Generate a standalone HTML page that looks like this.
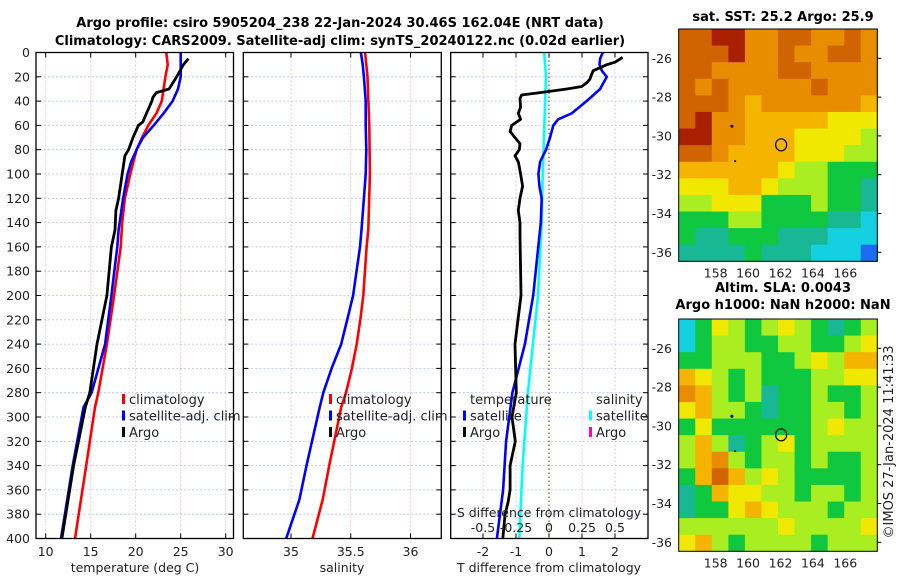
<!DOCTYPE html>
<html><head><meta charset="utf-8"><style>
html,body{margin:0;padding:0;background:#fff;}
svg{display:block;font-family:"DejaVu Sans","Liberation Sans",sans-serif;}
</style></head><body>
<svg id="fig" width="900" height="580" viewBox="0 0 900 580" xmlns="http://www.w3.org/2000/svg">
<text x="340" y="27" text-anchor="middle" font-size="13" font-weight="bold">Argo profile: csiro 5905204_238 22-Jan-2024 30.46S 162.04E (NRT data)</text>
<text x="340" y="45" text-anchor="middle" font-size="13" font-weight="bold">Climatology: CARS2009. Satellite-adj clim: synTS_20240122.nc (0.02d earlier)</text>
<g id="panels"></g>
<g id="maps"></g>
</svg>
<script>
// ---- Temperature panel data ----
const tClimDepth = [0,10,20,40,50,60,70,80,100,120,140,160,200,240,280,292,340,400];
const tClimVal   = [23.4,23.55,23.3,22.9,22.3,21.4,20.7,20.1,19.4,18.8,18.5,18.33,17.6,16.8,15.85,15.48,14.5,13.26];
const tSatDepth  = [0,20,30,40,50,60,70,80,90,100,120,146,160,200,240,280,292,340,400];
const tSatVal    = [25.0,25.0,24.7,24.1,23.1,22.0,20.8,20.1,19.5,19.1,18.6,18.1,17.96,17.3,16.6,15.1,14.2,13.0,11.7];
const tArgoDepth = [5,10,20,30,33,37,40,50,57,60,70,80,85,100,120,130,146,160,200,240,280,292,340,400];
const tArgoVal   = [25.85,25.3,24.55,23.7,22.3,21.9,21.8,21.2,20.8,20.3,19.7,19.2,18.8,18.5,18.1,17.8,17.7,17.3,16.8,15.7,14.9,14.4,13.1,11.8];
// ---- Salinity panel data ----
const sClimDepth = [0,10,20,60,100,146,160,200,220,240,260,280,292,340,368,400];
const sClimVal   = [35.62,35.63,35.64,35.655,35.66,35.647,35.633,35.605,35.58,35.55,35.51,35.46,35.42,35.32,35.265,35.18];
const sSatDepth  = [0,10,20,40,60,80,100,120,146,160,200,220,240,260,280,292,340,368,400];
const sSatVal    = [35.585,35.6,35.61,35.625,35.625,35.63,35.625,35.61,35.59,35.577,35.52,35.47,35.42,35.34,35.27,35.24,35.13,35.07,34.96];
// ---- Difference panel data ----
const dSDepth = [0,20,100,140,200,280,340,400];
const dSVal   = [-0.036,-0.023,-0.048,-0.055,-0.083,-0.16,-0.2,-0.225];
const dTSatDepth = [0,5,10,15,20,30,40,50,55,60,70,80,90,100,110,120,140,200,240,280,320,360,400];
const dTSatVal   = [1.63,1.55,1.53,1.6,1.75,1.55,1.14,0.69,0.28,0.13,0.03,-0.09,-0.27,-0.32,-0.29,-0.22,-0.25,-0.48,-0.73,-1.11,-1.3,-1.39,-1.58];
const dTArgoDepth = [4,8,10,15,18,22,25,28,30,33,35,38,45,50,55,60,65,70,75,80,85,90,100,110,120,130,140,150,200,240,280,300,320,340,360,370,380,400];
const dTArgoVal   = [2.23,2.0,1.75,1.34,1.29,1.24,1.14,0.99,0.54,-0.27,-0.83,-0.88,-0.86,-0.93,-0.86,-1.13,-1.18,-1.03,-0.88,-0.9,-1.03,-0.93,-0.86,-0.8,-0.88,-0.93,-0.88,-0.88,-0.85,-1.03,-0.99,-1.12,-1.02,-1.18,-1.18,-1.24,-1.33,-1.4];
// ---- ticks ----
const depthTicks = [0,20,40,60,80,100,120,140,160,180,200,220,240,260,280,300,320,340,360,380,400];
const tTicks = [10,15,20,25,30];
const sTicks = [35,35.5,36];
const sTickLabels = ['35','35.5','36'];
const dTTicks = [-2,-1,0,1,2];
const dSTicks = [-0.5,-0.25,0,0.25,0.5];
const dSTickLabels = ['-0.5','-0.25','0','0.25','0.5'];
// ---- maps (value classes 0..9) ----
const sstGrid = [
[8,8,9,9,7,7,8,8,7,7,8,7],
[8,8,8,9,7,7,8,7,7,8,8,7],
[8,8,7,7,7,7,8,8,7,7,7,7],
[8,7,8,7,7,7,7,7,8,7,7,7],
[8,8,8,7,6,7,7,7,7,7,7,6],
[8,9,7,7,6,6,6,6,6,5,5,5],
[9,9,7,7,6,6,6,5,5,5,5,4],
[8,8,7,6,6,6,6,5,5,5,4,4],
[6,6,6,6,6,6,5,4,4,3,3,3],
[5,5,5,6,6,5,4,4,4,3,3,2],
[4,4,5,5,5,3,3,3,4,3,3,2],
[3,3,3,4,4,3,3,3,3,2,2,1],
[3,2,2,3,3,3,2,2,2,1,1,1],
[2,2,2,2,3,2,2,2,1,1,1,0]];
const slaGrid = [
[1,3,5,4,3,4,5,4,3,2,3,4],
[1,3,4,4,3,3,4,4,3,3,4,5],
[3,3,4,4,4,3,3,4,5,4,6,6],
[6,5,4,3,4,3,3,3,4,4,5,5],
[7,6,4,3,4,2,3,3,4,3,3,4],
[5,6,4,4,3,2,3,3,4,4,3,4],
[3,5,3,3,3,3,3,3,4,5,4,4],
[4,6,4,2,3,4,5,3,4,4,4,4],
[4,6,7,4,3,4,4,3,4,3,3,4],
[3,6,8,6,4,5,4,3,3,3,3,4],
[2,3,6,5,5,4,4,3,4,4,3,4],
[2,3,3,5,6,5,4,4,4,3,4,4],
[4,4,4,4,4,4,5,4,4,4,4,5],
[5,6,4,3,4,4,4,4,3,4,4,4]];
const latTicks = [-26,-28,-30,-32,-34,-36];
const lonTicks = [158,160,162,164,166];
const profileLon = [162.04];
const profileLat = [-30.46];

const NS='http://www.w3.org/2000/svg';
function mk(tag, attrs, parent){const e=document.createElementNS(NS,tag);for(const k in attrs)e.setAttribute(k,attrs[k]);parent.appendChild(e);return e;}
const P=document.getElementById('panels');
const top0=52.5, bot=538.5;
const yD = d => top0 + d*(bot-top0)/400;
const xT = v => 45.7 + (v-10)*9;
const xS = v => 291 + (v-35)*119.5;
const xDT = v => 549 + v*33;
const xDS = v => 549 + v*132;
const frames = [[36,233.5],[243.3,441.3],[450.7,648]];

function gridAndFrame(i, xs, fn){
  const [l,r]=frames[i];
  depthTicks.forEach(d=>{ if(d>0&&d<400){const g=mk('line',{x1:l,x2:r,y1:yD(d),y2:yD(d),stroke:'#b8c0e8','stroke-width':0.8,'stroke-dasharray':'2,2'},P);
    
    }
    [[l,l+5],[r-5,r]].forEach(([a,b])=>{const t=mk('line',{x1:a,x2:b,y1:yD(d),y2:yD(d),stroke:'#000','stroke-width':1},P);
    
    });
  });
  xs.forEach(v=>{const x=fn(v); if(x>l+1&&x<r-1){const g=mk('line',{x1:x,x2:x,y1:top0,y2:bot,stroke:'#e0c0c0','stroke-width':0.8,'stroke-dasharray':'2,2'},P);
    
    }
    [[bot-5,bot],[top0,top0+5]].forEach(([a,b])=>{const t=mk('line',{x1:x,x2:x,y1:a,y2:b,stroke:'#000','stroke-width':1},P);
    
    });
  });
}
function frame(i){const [l,r]=frames[i];const f=mk('rect',{x:l,y:top0,width:r-l,height:bot-top0,fill:'none',stroke:'#000','stroke-width':1.3},P);
  
  }
function line(depths, vals, fx, color, w, name){
  const d=depths.map((dd,i)=>(i?'L':'M')+fx(vals[i]).toFixed(1)+','+yD(dd).toFixed(1)).join('');
  const p=mk('path',{d:d,fill:'none',stroke:color,'stroke-width':w,'stroke-linejoin':'round'},P);
  
  
}
function txt(x,y,s,opts,name,parent){const t=mk('text',Object.assign({x:x,y:y,'font-size':12.5,fill:'#222'},opts||{}),parent||P);t.textContent=s;
  
  return t;}

gridAndFrame(0,tTicks,xT);
gridAndFrame(1,sTicks,xS);
gridAndFrame(2,dTTicks,xDT);
const z=mk('line',{x1:xDT(0),x2:xDT(0),y1:top0,y2:bot,stroke:'#666633','stroke-width':1.2,'stroke-dasharray':'1.5,2.5'},P);



depthTicks.forEach(d=>txt(30,yD(d)+4.5,String(d),{'text-anchor':'end'},'y-tick-label'));
tTicks.forEach(v=>txt(xT(v),556,String(v),{'text-anchor':'middle'},'x-tick-label'));
sTicks.forEach((v,i)=>txt(xS(v),556,sTickLabels[i],{'text-anchor':'middle'},'x-tick-label'));
dTTicks.forEach(v=>txt(xDT(v),556,String(v),{'text-anchor':'middle'},'x-tick-label'));
txt(135,572,'temperature (deg C)',{'text-anchor':'middle'},'x-axis-title-temperature');
txt(342,572,'salinity',{'text-anchor':'middle'},'x-axis-title-salinity');
txt(549,572,'T difference from climatology',{'text-anchor':'middle'},'x-axis-title-tdiff');

line(tClimDepth,tClimVal,xT,'#ff0000',2.6,'temp-climatology-line');
line(tSatDepth,tSatVal,xT,'#0000ff',2.6,'temp-satellite-line');
line(tArgoDepth,tArgoVal,xT,'#000000',2.8,'temp-argo-line');
line(sClimDepth,sClimVal,xS,'#ff0000',2.6,'sal-climatology-line');
line(sSatDepth,sSatVal,xS,'#0000ff',2.6,'sal-satellite-line');
line(dSDepth,dSVal,xDS,'#00ffff',2.6,'sdiff-satellite-line');
line(dTSatDepth,dTSatVal,xDT,'#0000ff',2.6,'tdiff-satellite-line');
line(dTArgoDepth,dTArgoVal,xDT,'#000000',2.8,'tdiff-argo-line');

dSTicks.forEach((v,i)=>txt(xDS(v),532,dSTickLabels[i],{'text-anchor':'middle'},'s-tick-label'));
txt(549,517,'S difference from climatology',{'text-anchor':'middle'},'s-axis-title');

frame(0);frame(1);frame(2);

function legend(x, items, name){
  const g=mk('g',{},P);
  
  
  items.forEach((it,i)=>{const y=404+i*16.5;
    if(it[1]){const r=mk('rect',{x:x-7,y:y-10,width:3,height:10,fill:it[1]},g);
      
      }
    txt(x,y,it[0],{'font-size':13},'legend-entry',g);});
}
legend(129,[['climatology','#ff0000'],['satellite-adj. clim','#0000ff'],['Argo','#000']],'legend-temperature');
legend(336,[['climatology','#ff0000'],['satellite-adj. clim','#0000ff'],['Argo','#000']],'legend-salinity');
legend(470,[['temperature',null],['satellite','#0000ff'],['Argo','#000']],'legend-tdiff');
legend(596,[['salinity',null],['satellite','#00ffff'],['Argo','#ff00cc']],'legend-sdiff');

// ---- maps ----
const M=document.getElementById('maps');
const cmap=['#1c6bf0','#14d0e0','#18b894','#10c840','#a8ee20','#f0e800','#f5b400','#e88c00','#d06400','#a82000'];
const mapL=678.7, mapR=877.3, mapW=mapR-mapL;
const lonX = lon => 715.7 + (lon-158)*16.2;
function drawMap(grid, top, bottom, name, title1, title2){
  const g=mk('g',{},M);
  
  
  const rows=grid.length, cols=grid[0].length, cw=mapW/cols, ch=(bottom-top)/rows;
  grid.forEach((row,r)=>row.forEach((v,c)=>{const cell=mk('rect',{x:(mapL+c*cw).toFixed(2),y:(top+r*ch).toFixed(2),width:(cw+0.5).toFixed(2),height:(ch+0.5).toFixed(2),fill:cmap[v]},g);
    
    }));
  const latY = lat => top + 29.3 + (-26-lat)*19.4;
  const fr=mk('rect',{x:mapL,y:top,width:mapW,height:bottom-top,fill:'none',stroke:'#000','stroke-width':1},g);
  
  
  latTicks.forEach(lt=>{const y=latY(lt);txt(672,y+4.5,String(lt),{'text-anchor':'end'},'map-lat-label',g);
    const t=mk('line',{x1:mapR,x2:mapR+4,y1:y,y2:y,stroke:'#000'},g);
    
    });
  lonTicks.forEach(ln=>txt(lonX(ln),bottom+16,String(ln),{'text-anchor':'middle'},'map-lon-label',g));
  const c=mk('ellipse',{cx:lonX(profileLon[0]),cy:latY(profileLat[0]),rx:5.5,ry:6,fill:'none',stroke:'#000','stroke-width':1.2},g);
  
  
  const d1=mk('circle',{cx:lonX(159),cy:latY(-29.5),r:1.5,fill:'#000'},g);
  
  
  const d2=mk('circle',{cx:lonX(159.2),cy:latY(-31.3),r:1,fill:'#000'},g);
  
  
  if(title2){txt(783,top-27,title1,{'text-anchor':'middle','font-size':13,'font-weight':'bold',fill:'#000'},'map-title',g);
    txt(783,top-10,title2,{'text-anchor':'middle','font-size':13,'font-weight':'bold',fill:'#000'},'map-subtitle',g);}
  else txt(783,top-8,title1,{'text-anchor':'middle','font-size':13,'font-weight':'bold',fill:'#000'},'map-title',g);
}
drawMap(sstGrid,29,261.3,'sst-map','sat. SST: 25.2 Argo: 25.9');
drawMap(slaGrid,319,551.3,'sla-map','Altim. SLA: 0.0043','Argo h1000: NaN h2000: NaN');
txt(0,0,'©IMOS 27-Jan-2024 11:41:33',{'text-anchor':'middle','font-size':13,transform:'translate(893,442) rotate(-90)'},'copyright-timestamp',M);
</script>
</body></html>
